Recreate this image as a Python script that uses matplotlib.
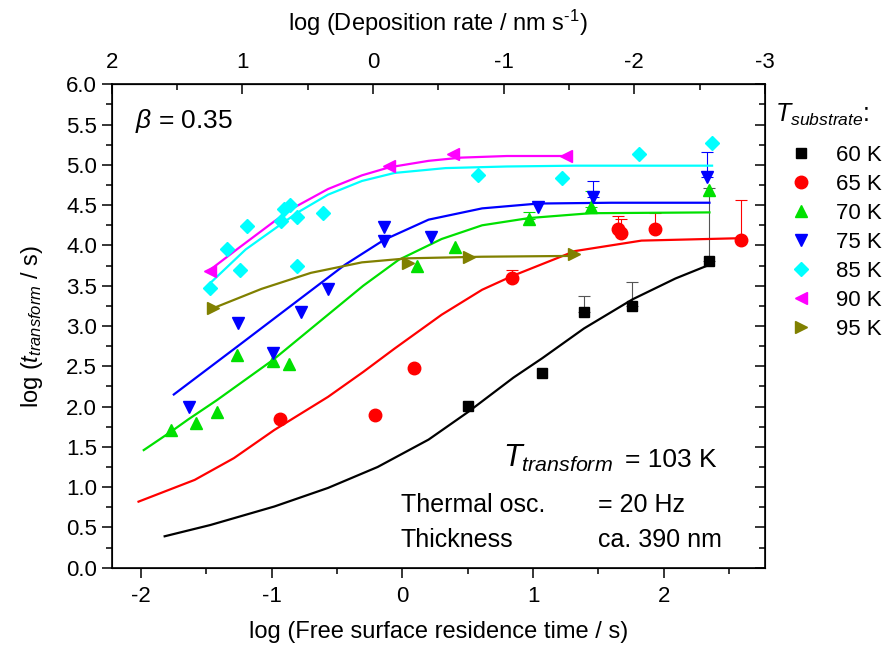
import numpy as np
import matplotlib
matplotlib.use("Agg")
import matplotlib.pyplot as plt

plt.rcParams["font.family"] = ["Liberation Sans", "DejaVu Sans"]
plt.rcParams["mathtext.fontset"] = "custom"
plt.rcParams["mathtext.rm"] = "Liberation Sans"
plt.rcParams["mathtext.it"] = "Liberation Sans:italic"
plt.rcParams["axes.unicode_minus"] = False

# measured points: x = log residence time, y = log t_transform, e = upper error
x60 = [0.50, 1.07, 1.39, 1.76, 2.35]
y60 = [2.01, 2.42, 3.17, 3.25, 3.81]
e60 = [0, 0, 0.20, 0.30, 0.90]

x65 = [-0.94, -0.21, 0.09, 0.84, 1.65, 1.67, 1.93, 2.59]
y65 = [1.84, 1.90, 2.48, 3.59, 4.20, 4.15, 4.20, 4.07]
e65 = [0, 0, 0, 0.10, 0.17, 0.18, 0.20, 0.50]

x70 = [-1.77, -1.58, -1.42, -1.27, -0.99, -0.87, 0.115, 0.40, 0.97, 1.44, 2.35]
y70 = [1.71, 1.80, 1.93, 2.64, 2.57, 2.53, 3.74, 3.98, 4.33, 4.48, 4.69]
e70 = [0, 0, 0, 0, 0, 0, 0, 0, 0.09, 0.19, 0]

x75 = [-1.63, -1.26, -0.99, -0.78, -0.57, -0.14, -0.14, 0.22, 1.04, 1.46, 2.33]
y75 = [2.00, 3.04, 2.66, 3.17, 3.46, 4.23, 4.06, 4.10, 4.48, 4.60, 4.85]
e75 = [0, 0, 0, 0, 0, 0, 0, 0, 0, 0.20, 0.31]

x85 = [-1.47, -1.34, -1.24, -1.19, -0.93, -0.91, -0.86, -0.81, -0.81, -0.61, 0.58, 1.22, 1.81, 2.37]
y85 = [3.47, 3.95, 3.69, 4.24, 4.30, 4.45, 4.50, 4.35, 3.75, 4.40, 4.88, 4.84, 5.13, 5.27]

x90 = [-1.47, -0.10, 0.39, 1.25]
y90 = [3.68, 4.98, 5.13, 5.11]

x95 = [-1.45, 0.04, 0.51, 1.31]
y95 = [3.22, 3.78, 3.86, 3.89]

# fitted curves
f60x = [-1.82, -1.47, -0.98, -0.57, -0.19, 0.20, 0.50, 0.85, 1.07, 1.39, 1.76, 2.09, 2.35]
f60y = [0.39, 0.53, 0.76, 0.99, 1.25, 1.59, 1.93, 2.36, 2.60, 2.97, 3.33, 3.59, 3.76]
f65x = [-2.02, -1.59, -1.29, -0.98, -0.83, -0.57, -0.30, -0.06, 0.30, 0.61, 0.84, 1.32, 1.83, 2.59]
f65y = [0.82, 1.09, 1.36, 1.71, 1.86, 2.12, 2.43, 2.72, 3.14, 3.45, 3.62, 3.93, 4.06, 4.09]
f70x = [-1.98, -1.77, -1.64, -1.42, -0.99, -0.57, -0.30, -0.03, 0.30, 0.61, 0.97, 1.44, 2.35]
f70y = [1.46, 1.69, 1.84, 2.08, 2.58, 3.14, 3.50, 3.82, 4.08, 4.25, 4.34, 4.40, 4.41]
f75x = [-1.75, -1.26, -0.83, -0.44, -0.14, 0.20, 0.61, 1.04, 1.60, 2.35]
f75y = [2.15, 2.75, 3.28, 3.76, 4.07, 4.32, 4.46, 4.52, 4.53, 4.53]
f85x = [-1.46, -1.20, -0.88, -0.78, -0.57, -0.31, -0.06, 0.33, 0.80, 1.32, 2.37]
f85y = [3.55, 3.95, 4.32, 4.43, 4.63, 4.80, 4.90, 4.96, 4.98, 4.99, 4.99]
f90x = [-1.47, -1.26, -0.98, -0.83, -0.57, -0.31, -0.10, 0.20, 0.45, 0.80, 1.25]
f90y = [3.70, 3.96, 4.30, 4.47, 4.70, 4.87, 4.97, 5.05, 5.09, 5.11, 5.11]
f95x = [-1.45, -1.08, -0.70, -0.31, 0.04, 0.61, 1.31]
f95y = [3.22, 3.46, 3.66, 3.79, 3.84, 3.86, 3.87]

series = [
    ("60 K", "black", "s", 7, x60, y60, e60, f60x, f60y),
    ("65 K", "#ff0000", "o", 9, x65, y65, e65, f65x, f65y),
    ("70 K", "#00e000", "^", 9, x70, y70, e70, f70x, f70y),
    ("75 K", "#0000ff", "v", 9, x75, y75, e75, f75x, f75y),
    ("85 K", "#00ffff", "D", 7.5, x85, y85, None, f85x, f85y),
    ("90 K", "#ff00ff", "<", 9, x90, y90, None, f90x, f90y),
    ("95 K", "#808000", ">", 9, x95, y95, None, f95x, f95y),
]

fig = plt.figure(figsize=(8.89, 6.46), dpi=100)
ax = fig.add_axes([0.1257, 0.1212, 0.7348, 0.7483])

for lab, col, mk, ms, xs, ys, es, fx, fy in series:
    ax.plot(fx, fy, color=col, lw=1.6, zorder=2, solid_joinstyle="round")
    if es is not None:
        xs_e = [x for x, e in zip(xs, es) if e > 0]
        ys_e = [y for y, e in zip(ys, es) if e > 0]
        ee = [e for e in es if e > 0]
        ecol = "#555555" if col == "black" else col
        ax.errorbar(xs_e, ys_e, yerr=[np.zeros(len(ee)), ee], fmt="none",
                    ecolor=ecol, elinewidth=0.8, capsize=4, capthick=0.8, zorder=1)
    ax.plot(xs, ys, ls="none", marker=mk, ms=ms, color=col, mec=col, label=lab, zorder=3)

ax.set_xlim(-2.225, 2.775)
ax.set_ylim(0, 6)
ax.set_xticks([-2, -1, 0, 1, 2])
ax.set_xticks(np.arange(-2, 3, 0.5), minor=True)
ax.set_yticks(np.arange(0, 6.01, 0.5))
ax.set_yticks(np.arange(0, 6.01, 0.25), minor=True)
ax.yaxis.set_major_formatter(matplotlib.ticker.FormatStrFormatter("%.1f"))
ax.tick_params(axis="both", which="major", labelsize=16, length=7, width=1.1)
ax.tick_params(axis="both", which="minor", length=4, width=1.1)
ax.tick_params(axis="x", which="both", direction="out", pad=6)
ax.tick_params(axis="y", which="both", direction="out", right=False)
for sp in ax.spines.values():
    sp.set_linewidth(1.2)

# right side ticks point inward
ax2 = ax.twinx()
ax2.set_ylim(0, 6)
ax2.set_yticks(np.arange(0, 6.01, 0.5))
ax2.set_yticks(np.arange(0, 6.01, 0.25), minor=True)
ax2.tick_params(axis="y", which="both", direction="in", labelright=False, width=1.1)
ax2.tick_params(axis="y", which="major", length=7)
ax2.tick_params(axis="y", which="minor", length=4)

off = 0.225
top = ax.secondary_xaxis("top", functions=(lambda x: -x - off, lambda t: -t - off))
top.set_xticks([2, 1, 0, -1, -2, -3])
top.set_xticks(np.arange(-3, 2.01, 0.5), minor=True)
top.tick_params(axis="x", which="both", direction="in", width=1.1, labelsize=16, pad=8)
top.tick_params(axis="x", which="major", length=7)
top.tick_params(axis="x", which="minor", length=4)
top.set_xlabel(r"log (Deposition rate / nm s$^{\text{-1}}$)", fontsize=17, labelpad=15)

ax.set_xlabel("log (Free surface residence time / s)", fontsize=17, labelpad=10)
ax.set_ylabel("log ($t_{transform}$ / s)", fontsize=17, labelpad=15)

ax.text(0.036, 0.909, r"$\beta$ = 0.35", transform=ax.transAxes, fontsize=19, va="baseline")
ax.text(0.599, 0.209, "$T_{transform}$", transform=ax.transAxes, fontsize=22, va="baseline")
ax.text(0.9265, 0.209, "= 103 K", transform=ax.transAxes, fontsize=19, va="baseline", ha="right")
ax.text(0.4425, 0.116, "Thermal osc.", transform=ax.transAxes, fontsize=18, va="baseline")
ax.text(0.745, 0.116, "= 20 Hz", transform=ax.transAxes, fontsize=18, va="baseline")
ax.text(0.4425, 0.043, "Thickness", transform=ax.transAxes, fontsize=18, va="baseline")
ax.text(0.745, 0.043, "ca. 390 nm", transform=ax.transAxes, fontsize=18, va="baseline")

leg = ax.legend(loc="upper left", bbox_to_anchor=(0.992, 0.995), frameon=False,
                fontsize=16, title="$T_{substrate}$:", title_fontsize=18,
                handletextpad=0.45, labelspacing=0.36, handlelength=2.3, borderpad=0.2)
leg._legend_box.align = "left"
leg._legend_box.sep = 12

fig.savefig("out.png", dpi=100)
